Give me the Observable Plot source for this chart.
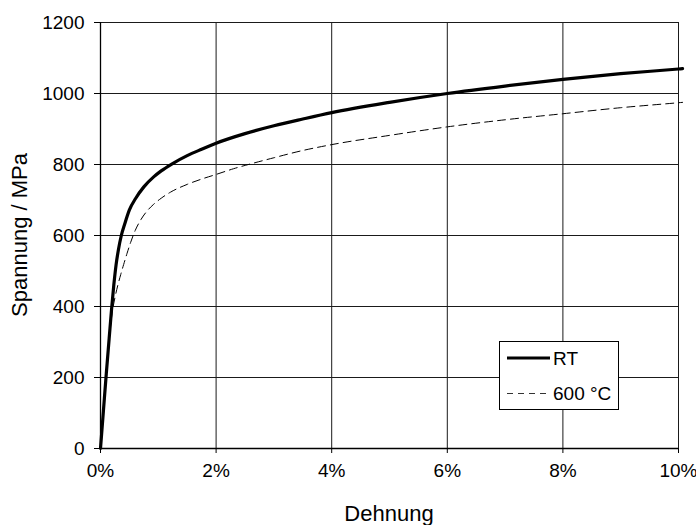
<!DOCTYPE html>
<html>
<head>
<meta charset="utf-8">
<script src="https://cdn.jsdelivr.net/npm/d3@7"></script>
<script src="https://cdn.jsdelivr.net/npm/@observablehq/plot@0.6"></script>
<style>
  html, body { margin: 0; padding: 0; background: #fff; }
  #chart { width: 696px; height: 525px; }
</style>
</head>
<body>
<div id="chart"></div>
<script>
// Strain in percent, stress in MPa
const rtStrain = [0, 0.05, 0.10, 0.15, 0.19, 0.23, 0.27, 0.31, 0.36, 0.42, 0.50, 0.61, 0.75, 0.92, 1.05, 1.24, 1.5, 1.75, 2.0, 2.5, 3.0, 3.5, 4.0, 5.0, 6.0, 7.0, 8.0, 9.0, 10.0, 10.07];
const rtStress = [0, 105, 210, 310, 390, 460, 518, 560, 600, 633, 672, 705, 737, 765, 782, 802, 825, 843, 860, 887, 909, 928, 946, 975, 1000, 1021, 1040, 1056, 1069, 1070];

const hotStrain = [0, 0.05, 0.10, 0.15, 0.20, 0.25, 0.30, 0.35, 0.40, 0.46, 0.52, 0.60, 0.70, 0.80, 0.92, 1.05, 1.21, 1.5, 1.75, 2.0, 2.3, 2.65, 3.0, 3.46, 4.0, 5.0, 6.0, 7.0, 8.0, 9.0, 10.0, 10.07];
const hotStress = [0, 105, 210, 305, 380, 425, 460, 490, 518, 550, 580, 614, 645, 668, 688, 705, 722, 744, 759, 772, 788, 804, 819, 838, 856, 882, 906, 926, 943, 960, 974, 975];

const xTicks = [0, 2, 4, 6, 8, 10];
const yTicks = [0, 200, 400, 600, 800, 1000, 1200];
const seriesNames = ["RT", "600 °C"];
const xTitle = "Dehnung";
const yTitle = "Spannung / MPa";

const rt = rtStrain.map((x, i) => ({x, y: rtStress[i]}));
const hot = hotStrain.map((x, i) => ({x, y: hotStress[i]}));

const font = "'Liberation Sans', Arial, sans-serif";

const chart = Plot.plot({
  width: 696,
  height: 525,
  marginLeft: 100,
  marginRight: 18,
  marginTop: 22,
  marginBottom: 77,
  style: {fontFamily: font, fontSize: "19px", color: "#000", background: "#fff", overflow: "visible"},
  x: {domain: [0, 10], label: null},
  y: {domain: [0, 1200], label: null},
  marks: [
    Plot.gridX(xTicks, {stroke: "#1a1a1a", strokeOpacity: 1, strokeWidth: 1}),
    Plot.gridY(yTicks, {stroke: "#1a1a1a", strokeOpacity: 1, strokeWidth: 1}),
    Plot.axisX(xTicks, {tickSize: 5, tickPadding: 10, tickFormat: d => d + "%", fontSize: 19, stroke: "#000"}),
    Plot.axisY(yTicks, {tickSize: 6, tickPadding: 10, tickFormat: d => String(d), fontSize: 19, stroke: "#000"}),
    Plot.ruleX([0], {stroke: "#000", strokeWidth: 1.3}),
    Plot.ruleY([0], {stroke: "#000", strokeWidth: 1.3}),
    Plot.line(hot, {x: "x", y: "y", stroke: "#000", strokeWidth: 1, strokeDasharray: "8,5", curve: "monotone-x"}),
    Plot.line(rt, {x: "x", y: "y", stroke: "#000", strokeWidth: 3.2, curve: "monotone-x"})
  ]
});

document.getElementById("chart").appendChild(chart);

// Axis titles and legend
const svg = d3.select(chart);
const xs = chart.scale("x");
const ys = chart.scale("y");
const xMid = (xs.range[0] + xs.range[1]) / 2;
const yMid = (ys.range[0] + ys.range[1]) / 2;

svg.append("text")
  .attr("x", xMid).attr("y", 521)
  .attr("text-anchor", "middle")
  .attr("font-family", font).attr("font-size", 22)
  .attr("fill", "#000")
  .text(xTitle);

svg.append("text")
  .attr("transform", `translate(27,${yMid}) rotate(-90)`)
  .attr("text-anchor", "middle")
  .attr("font-family", font).attr("font-size", 22)
  .attr("fill", "#000")
  .text(yTitle);

const lg = svg.append("g");
lg.append("rect")
  .attr("x", 499.5).attr("y", 341.5).attr("width", 119).attr("height", 68)
  .style("fill", "#fff").style("stroke", "#000").style("stroke-width", "1px");
lg.append("line")
  .attr("x1", 507).attr("x2", 550).attr("y1", 358).attr("y2", 358)
  .style("stroke", "#000").style("stroke-width", "3.2px");
lg.append("text")
  .attr("x", 553).attr("y", 365)
  .attr("text-anchor", "start").style("text-anchor", "start")
  .attr("font-family", font).attr("font-size", 19).style("fill", "#000")
  .text(seriesNames[0]);
lg.append("line")
  .attr("x1", 507).attr("x2", 550).attr("y1", 393.5).attr("y2", 393.5)
  .style("stroke", "#333").style("stroke-width", "1px").style("stroke-dasharray", "6,5");
lg.append("text")
  .attr("x", 553).attr("y", 400)
  .attr("text-anchor", "start").style("text-anchor", "start")
  .attr("font-family", font).attr("font-size", 19).style("fill", "#000")
  .text(seriesNames[1]);
</script>
</body>
</html>
